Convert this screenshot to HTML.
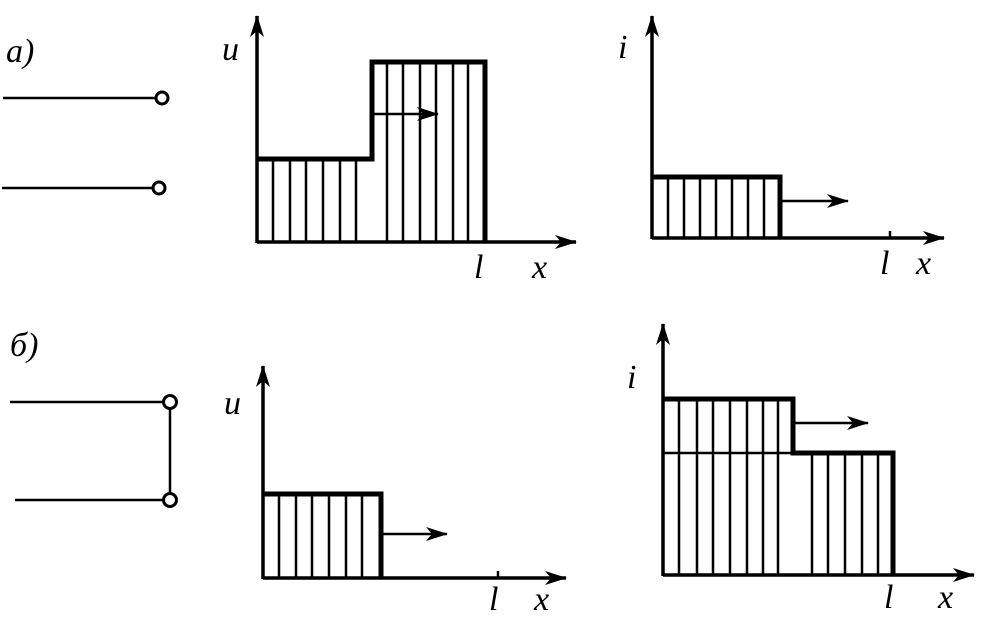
<!DOCTYPE html>
<html><head><meta charset="utf-8"><style>html,body{margin:0;padding:0;background:#fff}svg{display:block}text{font-family:"Liberation Serif",serif;font-style:italic;fill:#000}</style></head>
<body>
<svg width="988" height="618" viewBox="0 0 988 618" xmlns="http://www.w3.org/2000/svg">
<defs><marker id="ah" markerWidth="22" markerHeight="14" refX="21" refY="7" orient="auto" markerUnits="userSpaceOnUse"><path d="M0,0 L22,7 L0,14 L6,7 Z" fill="#000"/></marker></defs>
<g stroke="#000" fill="none">
<line x1="3" y1="98" x2="156" y2="98" stroke-width="2.5"/><circle cx="162" cy="98" r="6" stroke-width="3"/>
<line x1="2" y1="188" x2="153" y2="188" stroke-width="2.5"/><circle cx="159" cy="188" r="6" stroke-width="3"/>
<line x1="10" y1="402" x2="164" y2="402" stroke-width="2.5"/><circle cx="170" cy="402" r="6.5" stroke-width="3"/>
<line x1="15" y1="500" x2="164" y2="500" stroke-width="2.5"/><circle cx="170" cy="500" r="6.5" stroke-width="3"/>
<line x1="170" y1="408" x2="170" y2="494" stroke-width="2.5"/>

<line x1="257" y1="243" x2="257" y2="16" stroke-width="3.5" marker-end="url(#ah)"/>
<line x1="257" y1="242" x2="576" y2="242" stroke-width="3.5" marker-end="url(#ah)"/>
<g stroke-width="2.5"><line x1="273" y1="158" x2="273" y2="242"/><line x1="290" y1="158" x2="290" y2="242"/><line x1="306" y1="158" x2="306" y2="242"/><line x1="323" y1="158" x2="323" y2="242"/><line x1="340" y1="158" x2="340" y2="242"/><line x1="356" y1="158" x2="356" y2="242"/>
<line x1="387" y1="62" x2="387" y2="242"/><line x1="403" y1="62" x2="403" y2="242"/><line x1="420" y1="62" x2="420" y2="242"/><line x1="436" y1="62" x2="436" y2="242"/><line x1="453" y1="62" x2="453" y2="242"/><line x1="468" y1="62" x2="468" y2="242"/></g>
<path d="M257,159 H372 V62 H485 V242" stroke-width="5"/>
<line x1="372" y1="114" x2="438" y2="114" stroke-width="2.5" marker-end="url(#ah)"/>

<line x1="652" y1="239" x2="652" y2="16" stroke-width="3.5" marker-end="url(#ah)"/>
<line x1="652" y1="238" x2="944" y2="238" stroke-width="3.5" marker-end="url(#ah)"/>
<g stroke-width="2.5"><line x1="668" y1="177" x2="668" y2="238"/><line x1="684" y1="177" x2="684" y2="238"/><line x1="700" y1="177" x2="700" y2="238"/><line x1="716" y1="177" x2="716" y2="238"/><line x1="732" y1="177" x2="732" y2="238"/><line x1="748" y1="177" x2="748" y2="238"/><line x1="764" y1="177" x2="764" y2="238"/></g>
<path d="M652,177 H780 V238" stroke-width="5"/>
<line x1="781" y1="201" x2="848" y2="201" stroke-width="2.5" marker-end="url(#ah)"/>
<line x1="890" y1="231" x2="890" y2="238" stroke-width="2.5"/>

<line x1="263" y1="579" x2="263" y2="366" stroke-width="3.5" marker-end="url(#ah)"/>
<line x1="263" y1="578" x2="566" y2="578" stroke-width="3.5" marker-end="url(#ah)"/>
<g stroke-width="2.5"><line x1="279" y1="494" x2="279" y2="578"/><line x1="296" y1="494" x2="296" y2="578"/><line x1="312" y1="494" x2="312" y2="578"/><line x1="329" y1="494" x2="329" y2="578"/><line x1="346" y1="494" x2="346" y2="578"/><line x1="362" y1="494" x2="362" y2="578"/></g>
<path d="M263,494 H381 V578" stroke-width="5"/>
<line x1="382" y1="534" x2="447" y2="534" stroke-width="2.5" marker-end="url(#ah)"/>
<line x1="498" y1="571" x2="498" y2="578" stroke-width="2.5"/>

<line x1="663" y1="576" x2="663" y2="324" stroke-width="3.5" marker-end="url(#ah)"/>
<line x1="663" y1="575" x2="974" y2="575" stroke-width="3.5" marker-end="url(#ah)"/>
<g stroke-width="2.5"><line x1="679" y1="399" x2="679" y2="575"/><line x1="697" y1="399" x2="697" y2="575"/><line x1="713" y1="399" x2="713" y2="575"/><line x1="730" y1="399" x2="730" y2="575"/><line x1="747" y1="399" x2="747" y2="575"/><line x1="763" y1="399" x2="763" y2="575"/><line x1="778" y1="399" x2="778" y2="575"/>
<line x1="812" y1="453" x2="812" y2="575"/><line x1="828" y1="453" x2="828" y2="575"/><line x1="845" y1="453" x2="845" y2="575"/><line x1="862" y1="453" x2="862" y2="575"/><line x1="878" y1="453" x2="878" y2="575"/>
<line x1="663" y1="453" x2="793" y2="453"/></g>
<path d="M663,399 H793 V453 H893 V575" stroke-width="5"/>
<line x1="793" y1="423" x2="868" y2="423" stroke-width="2.5" marker-end="url(#ah)"/>
</g>
<g font-size="34">
<text x="6" y="62">а)</text>
<text x="10" y="356">б)</text>
<text x="222" y="60">u</text>
<text x="474" y="278">l</text>
<text x="532" y="278">x</text>
<text x="618" y="58">i</text>
<text x="880" y="274">l</text>
<text x="916" y="274">x</text>
<text x="224" y="414">u</text>
<text x="489" y="610">l</text>
<text x="534" y="610">x</text>
<text x="627" y="388">i</text>
<text x="884" y="608">l</text>
<text x="938" y="608">x</text>
</g>
</svg>
</body></html>
